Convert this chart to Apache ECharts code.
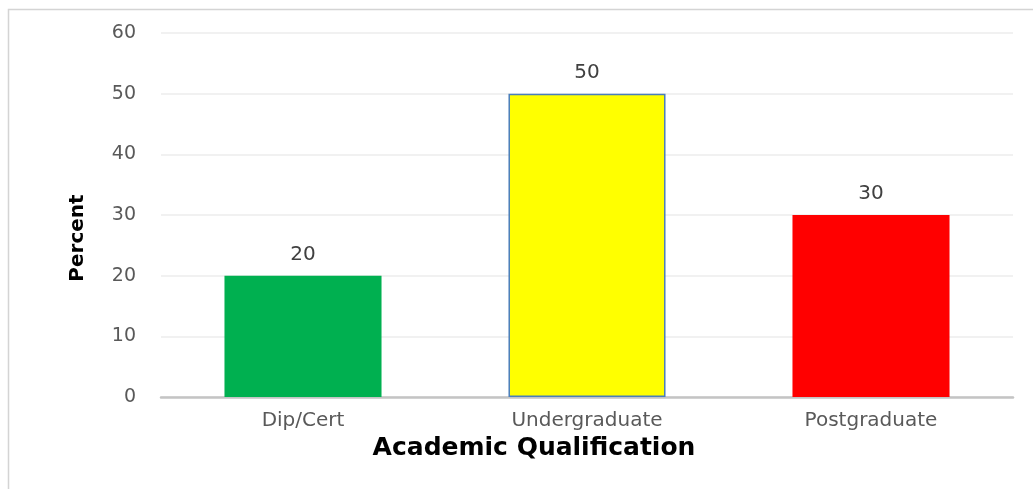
<!DOCTYPE html>
<html>
<head>
<meta charset="utf-8">
<style>
  html, body { margin: 0; padding: 0; background: #ffffff; }
  #chart { width: 1033px; height: 489px; }
</style>
<script src="https://cdn.jsdelivr.net/npm/echarts@6/dist/echarts.min.js"></script>
</head>
<body>
<div id="chart"></div>
<script>
// Academic qualification of respondents, in percent
const categories = ['Dip/Cert', 'Undergraduate', 'Postgraduate'];
const percentValues = [20, 50, 30];
const barColors = ['#00b050', '#ffff00', '#ff0000'];
const barBorders = ['#00b050', '#4a7ebb', '#ff0000'];
const yTicks = { min: 0, max: 60, interval: 10 };

const chart = echarts.init(document.getElementById('chart'), null, { renderer: 'canvas' });

const seriesData = percentValues.map((v, i) => ({
  value: v,
  itemStyle: {
    color: barColors[i],
    borderColor: barBorders[i],
    borderWidth: i === 1 ? 1.5 : 0
  }
}));

chart.setOption({
  animation: false,
  backgroundColor: '#ffffff',
  grid: { left: 161, right: 20, top: 33, bottom: 92 },
  xAxis: {
    type: 'category',
    data: categories,
    axisTick: { show: false },
    axisLine: { lineStyle: { color: '#c4c4c4', width: 2.5 } },
    axisLabel: {
      color: '#595959',
      fontFamily: 'DejaVu Sans',
      fontSize: 20,
      margin: 14
    }
  },
  yAxis: {
    type: 'value',
    min: yTicks.min,
    max: yTicks.max,
    interval: yTicks.interval,
    axisLine: { show: false },
    axisTick: { show: false },
    splitLine: { lineStyle: { color: '#ececec', width: 1.5 } },
    axisLabel: {
      color: '#595959',
      fontFamily: 'DejaVu Sans',
      fontSize: 19,
      margin: 25
    }
  },
  series: [{
    type: 'bar',
    data: seriesData,
    barWidth: '55.3%',
    label: {
      show: true,
      position: 'top',
      distance: 11,
      color: '#404040',
      fontFamily: 'DejaVu Sans',
      fontSize: 20
    }
  }],
  graphic: [
    {
      type: 'rect',
      silent: true,
      z: -1,
      shape: { x: 8.5, y: 9.5, width: 1200, height: 700 },
      style: { fill: 'none', stroke: '#d4d4d4', lineWidth: 1.5 }
    },
    {
      type: 'text',
      x: 78,
      y: 238,
      rotation: Math.PI / 2,
      style: {
        text: 'Percent',
        fill: '#000000',
        font: 'bold 20px "DejaVu Sans"',
        textAlign: 'center',
        textVerticalAlign: 'middle'
      }
    },
    {
      type: 'text',
      x: 534,
      y: 448,
      style: {
        text: 'Academic Qualification',
        fill: '#000000',
        font: 'bold 25px "DejaVu Sans"',
        textAlign: 'center',
        textVerticalAlign: 'middle'
      }
    }
  ]
});
</script>
</body>
</html>
